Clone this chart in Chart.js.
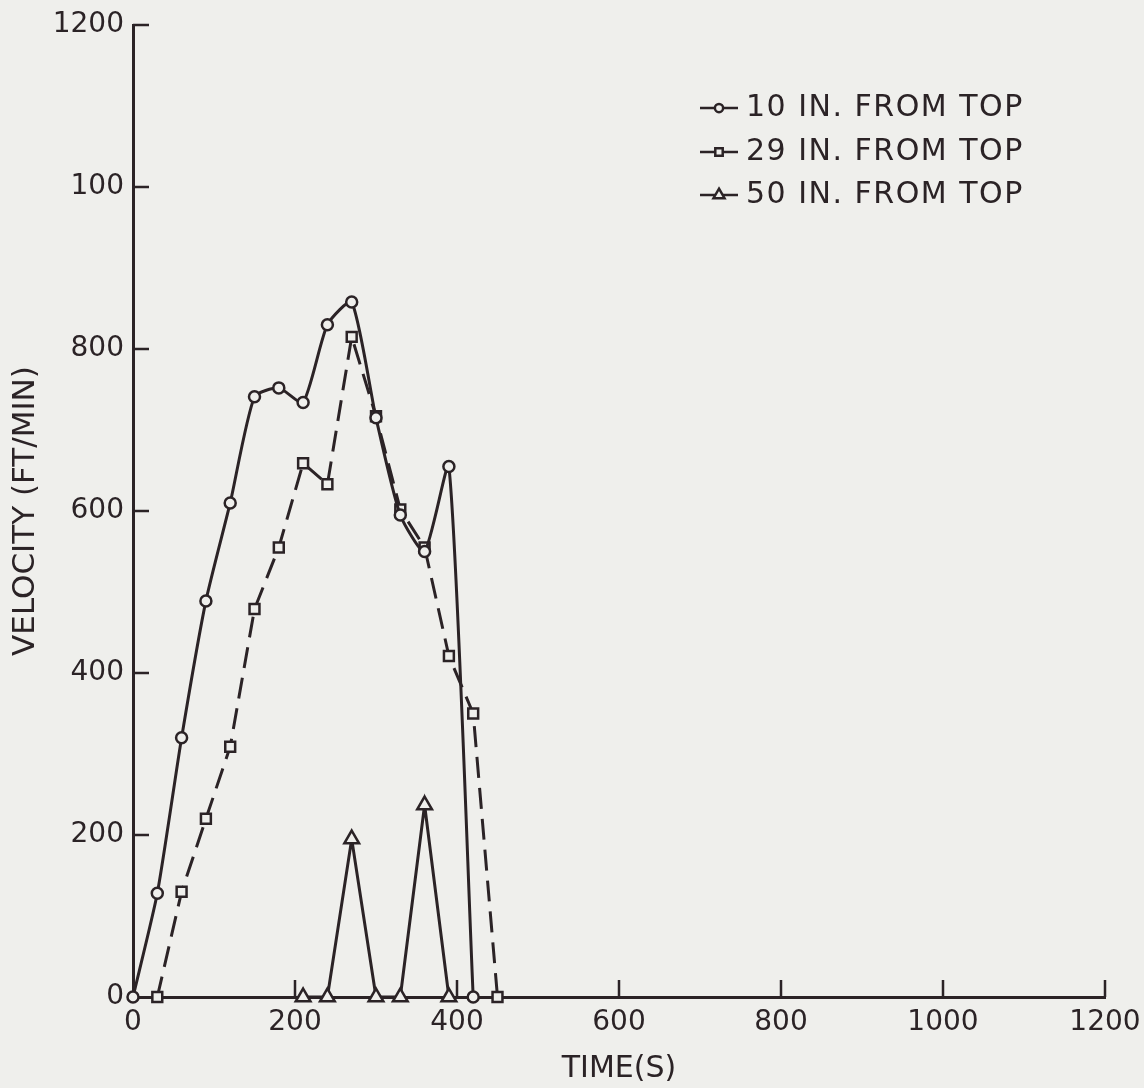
<!DOCTYPE html>
<html>
<head>
<meta charset="utf-8">
<script src="https://cdn.jsdelivr.net/npm/chart.js@4.4.1/dist/chart.umd.min.js"></script>
<style>
  html, body { margin: 0; padding: 0; background: #efefec; }
  #wrap { width: 1144px; height: 1088px; }
</style>
</head>
<body>
<div id="wrap"><canvas id="velocityChart" width="1144" height="1088"></canvas></div>
<script>
// values (time in s, velocity in ft/min)
const seriesNames = ['10 IN. FROM TOP', '29 IN. FROM TOP', '50 IN. FROM TOP'];

const time10 = [0, 30, 60, 90, 120, 150, 180, 210, 240, 270, 300, 330, 360, 390, 420];
const vel10  = [0, 128, 320, 489, 610, 741, 752, 734, 830, 858, 715, 595, 550, 655, 0];

const time29 = [30, 60, 90, 120, 150, 180, 210, 240, 270, 300, 330, 360, 390, 420, 450];
const vel29  = [0, 130, 220, 309, 479, 555, 659, 633, 815, 717, 602, 555, 421, 350, 0];

const time50 = [210, 240, 270, 300, 330, 360, 390];
const vel50  = [0, 0, 195, 0, 0, 237, 0];

const xTicks = [0, 200, 400, 600, 800, 1000, 1200];
const yTicks = [0, 200, 400, 600, 800, 1000, 1200];
// the original print labels 1000 on the y axis as "100"
const xTickLabels = ['0', '200', '400', '600', '800', '1000', '1200'];
const yTickLabels = ['0', '200', '400', '600', '800', '100', '1200'];

const ink = '#2b2326';
const paper = '#efefec';
const fontFamily = '"DejaVu Sans", "Liberation Sans", sans-serif';

function toPoints(xs, ys) {
    return xs.map((x, i) => ({ x: x, y: ys[i] }));
}

const markerStyles = ['circle', 'rect', 'triangle'];
const markerRadius = [5.5, 7, 8.5];

// inward tick marks, like the plotted original
const innerTicks = {
    id: 'innerTicks',
    afterDraw(chart) {
        const ctx = chart.ctx;
        const xs = chart.scales.x, ys = chart.scales.y;
        const area = chart.chartArea;
        ctx.save();
        ctx.strokeStyle = ink;
        ctx.lineWidth = 2.5;
        ctx.beginPath();
        xTicks.slice(1).forEach(v => {
            const px = xs.getPixelForValue(v);
            ctx.moveTo(px, area.bottom);
            ctx.lineTo(px, area.bottom - 17);
        });
        yTicks.slice(1).forEach(v => {
            const py = ys.getPixelForValue(v);
            ctx.moveTo(area.left, py);
            ctx.lineTo(area.left + 16, py);
        });
        ctx.stroke();
        ctx.restore();
    }
};

// legend in the top right: line + marker + label
const lineLegend = {
    id: 'lineLegend',
    afterDraw(chart) {
        const ctx = chart.ctx;
        const x0 = 700, lineLen = 38, textX = 746;
        const rows = [108, 152, 195];
        ctx.save();
        ctx.font = '30px ' + fontFamily;
        ctx.letterSpacing = '1.5px';
        ctx.textBaseline = 'middle';
        ctx.textAlign = 'left';
        seriesNames.forEach((name, i) => {
            const y = rows[i];
            ctx.strokeStyle = ink;
            ctx.lineWidth = 2.5;
            ctx.setLineDash([]);
            ctx.beginPath();
            ctx.moveTo(x0, y);
            ctx.lineTo(x0 + lineLen, y);
            ctx.stroke();
            ctx.fillStyle = paper;
            Chart.helpers.drawPoint(ctx, {
                pointStyle: markerStyles[i],
                radius: markerRadius[i] * 0.75,
                borderWidth: 2,
                rotation: 0
            }, x0 + lineLen / 2, y);
            ctx.fillStyle = ink;
            ctx.fillText(name, textX, y);
        });
        ctx.restore();
    }
};

const ctx = document.getElementById('velocityChart').getContext('2d');
new Chart(ctx, {
    type: 'line',
    data: {
        datasets: [{
            label: seriesNames[0],
            data: toPoints(time10, vel10),
            borderColor: ink,
            borderWidth: 3,
            tension: 0.2,
            pointStyle: markerStyles[0],
            pointRadius: markerRadius[0],
            pointBorderWidth: 2.5,
            pointBackgroundColor: paper,
            pointBorderColor: ink,
            clip: false
        }, {
            label: seriesNames[1],
            data: toPoints(time29, vel29),
            borderColor: ink,
            borderWidth: 3,
            borderDash: [21, 10],
            tension: 0,
            pointStyle: markerStyles[1],
            pointRadius: markerRadius[1],
            pointBorderWidth: 2.5,
            pointBackgroundColor: paper,
            pointBorderColor: ink,
            clip: false
        }, {
            label: seriesNames[2],
            data: toPoints(time50, vel50),
            borderColor: ink,
            borderWidth: 3,
            tension: 0,
            pointStyle: markerStyles[2],
            pointRadius: markerRadius[2],
            pointBorderWidth: 2.5,
            pointBackgroundColor: paper,
            pointBorderColor: ink,
            clip: false
        }]
    },
    options: {
        responsive: false,
        animation: false,
        layout: { padding: { left: 0, right: 39, top: 25, bottom: 0 } },
        plugins: {
            legend: { display: false },
            tooltip: { enabled: false }
        },
        scales: {
            x: {
                type: 'linear',
                min: 0,
                max: 1200,
                afterBuildTicks: s => { s.ticks = xTicks.map(v => ({ value: v })); },
                afterFit: s => { s.height = 91; },
                grid: { display: false },
                border: { display: true, color: ink, width: 3 },
                ticks: {
                    color: ink,
                    padding: 1,
                    maxRotation: 0,
                    font: { family: fontFamily, size: 28 },
                    callback: v => xTickLabels[xTicks.indexOf(v)]
                },
                title: {
                    display: true,
                    text: 'TIME(S)',
                    color: ink,
                    font: { family: fontFamily, size: 30 },
                    padding: { top: 0, bottom: 1 }
                }
            },
            y: {
                type: 'linear',
                min: 0,
                max: 1200,
                afterBuildTicks: s => { s.ticks = yTicks.map(v => ({ value: v })); },
                afterFit: s => { s.width = 133; },
                grid: { display: false },
                border: { display: true, color: ink, width: 3 },
                ticks: {
                    color: ink,
                    padding: 1,
                    font: { family: fontFamily, size: 28 },
                    callback: v => yTickLabels[yTicks.indexOf(v)]
                },
                title: {
                    display: true,
                    text: 'VELOCITY (FT/MIN)',
                    color: ink,
                    font: { family: fontFamily, size: 31 },
                    padding: { top: 7, bottom: 0 }
                }
            }
        }
    },
    plugins: [innerTicks, lineLegend]
});
</script>
</body>
</html>
